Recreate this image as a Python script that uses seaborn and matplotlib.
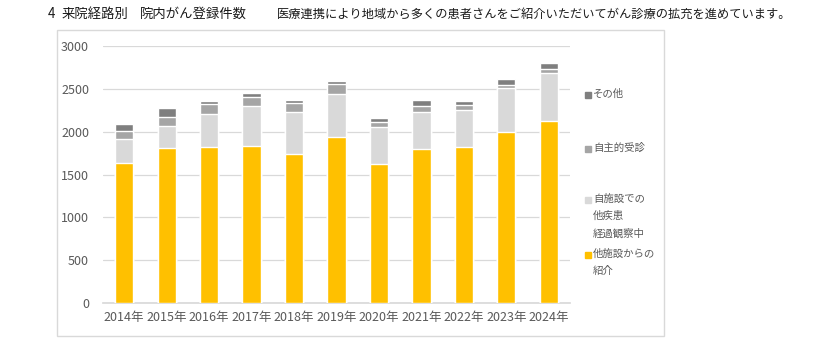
import matplotlib
matplotlib.use("Agg")
import matplotlib.pyplot as plt
import seaborn as sns
import pandas as pd
import numpy as np
from matplotlib.patches import Rectangle

years = ["2014年", "2015年", "2016年", "2017年", "2018年", "2019年", "2020年", "2021年", "2022年", "2023年", "2024年"]
referral = [1632, 1811, 1819, 1834, 1737, 1932, 1628, 1803, 1819, 1998, 2130]
followup = [280, 260, 388, 463, 494, 513, 428, 432, 439, 513, 556]
selfvisit = [97, 98, 117, 113, 109, 108, 58, 66, 54, 35, 46]
other = [82, 108, 39, 42, 31, 35, 43, 70, 51, 66, 66]

series_names = ["他施設からの\n紹介", "自施設での\n他疾患\n経過観察中", "自主的受診", "その他"]
colors = ["#FFC000", "#D9D9D9", "#A5A5A5", "#7F7F7F"]

sns.set_theme(style="white")
plt.rcParams['font.family'] = ['Noto Sans CJK JP', 'DejaVu Sans']

fig = plt.figure(figsize=(8.27, 3.48), dpi=100)
ax = fig.add_axes([103/827, 1-303/348, (570-103)/827, (303-46)/348])

df = pd.DataFrame({"year": years, "referral": referral, "followup": followup,
                   "selfvisit": selfvisit, "other": other})
cols = ["referral", "followup", "selfvisit", "other"]
cum = df[cols].cumsum(axis=1)
# draw cumulative stacks from tallest to shortest so each segment shows
for col, color in reversed(list(zip(cols, colors))):
    sns.barplot(x=df["year"], y=cum[col], color=color, width=0.43, ax=ax,
                saturation=1, zorder=3)

ax.set_xlim(-0.5, 10.5)
ax.set_ylim(0, 3000)
ax.set_yticks([0, 500, 1000, 1500, 2000, 2500, 3000])
ax.yaxis.grid(True, color="#D9D9D9", linewidth=0.9, zorder=0)
ax.xaxis.grid(False)
for s in ["top", "right", "left"]:
    ax.spines[s].set_visible(False)
ax.spines["bottom"].set_color("#D9D9D9")
ax.set_xlabel("")
ax.set_ylabel("")
ax.tick_params(axis="both", colors="#595959", labelsize=9, length=0)
ax.tick_params(axis="y", pad=10)
ax.tick_params(axis="x", pad=6)

fig.patches.append(Rectangle((57/827, 1-336/348), (664-57)/827, (336-30)/348,
                             transform=fig.transFigure, fill=False, edgecolor="#D9D9D9", linewidth=1))

# legend drawn manually
leg_items = [("その他", 95, colors[3]), ("自主的受診", 149, colors[2]),
             ("自施設での\n他疾患\n経過観察中", 200, colors[1]), ("他施設からの\n紹介", 255, colors[0])]
for label, ycen, color in leg_items:
    fig.patches.append(Rectangle((585/827, 1-(ycen+3)/348), 6/827, 6/348,
                                 transform=fig.transFigure, color=color))
    fig.text(593/827, 1-(ycen-6)/348, label, fontsize=7.5, color="#595959", va="top", ha="left",
             linespacing=1.85)

fig.text(48/827, 1-14/348, "4", fontsize=9.6, color="#1a1a1a", va="center")
fig.text(62/827, 1-14/348, "来院経路別", fontsize=9.6, color="#1a1a1a", va="center")
fig.text(140/827, 1-14/348, "院内がん登録件数", fontsize=9.6, color="#1a1a1a", va="center")
fig.text(277/827, 1-14/348, "医療連携により地域から多くの患者さんをご紹介いただいてがん診療の拡充を進めています。",
         fontsize=8.8, color="#1a1a1a", va="center")

fig.savefig("out.png", dpi=100)
